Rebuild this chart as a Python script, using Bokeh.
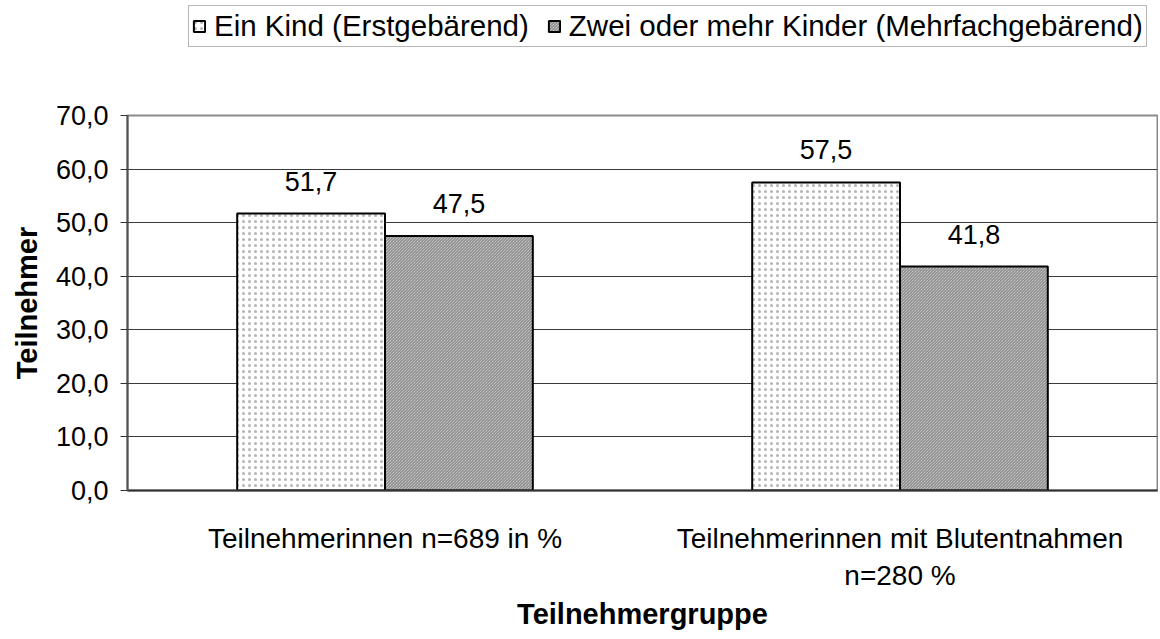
from bokeh.plotting import figure
from bokeh.models import (FactorRange, Range1d, Legend, LegendItem, LabelSet,
                          ColumnDataSource, CustomJSTickFormatter, SingleIntervalTicker)
from bokeh.core.properties import value
from bokeh.transform import dodge
from bokeh.layouts import column
from bokeh.embed import file_html
from bokeh.resources import INLINE

categories = ["Teilnehmerinnen n=689 in %", "Teilnehmerinnen mit Blutentnahmen\nn=280 %"]
ein_kind = [51.7, 57.5]
zwei_mehr = [47.5, 41.8]
series_names = ["Ein Kind (Erstgebärend)", "Zwei oder mehr Kinder (Mehrfachgebärend)"]
y_title = "Teilnehmer"
x_title = "Teilnehmergruppe"

FONT = "Liberation Sans"

def fmt(v):
    return f"{v:.1f}".replace(".", ",")

src = ColumnDataSource(data=dict(
    cat=categories,
    a=ein_kind,
    b=zwei_mehr,
    a_lbl=[fmt(v) for v in ein_kind],
    b_lbl=[fmt(v) for v in zwei_mehr],
))

style1 = dict(fill_color="white", line_color="black", line_width=2,
              hatch_pattern="dot", hatch_color="#b4b4b4", hatch_scale=6, hatch_weight=1)
style2 = dict(fill_color="#e6e6e6", line_color="black", line_width=2,
              hatch_pattern="left_diagonal_line", hatch_color="#777777", hatch_scale=3, hatch_weight=1)

x_range = FactorRange(*categories)
LEG_H = 56
p = figure(x_range=x_range, y_range=Range1d(0, 70),
           frame_width=1030, frame_height=375,
           min_border_left=127, min_border_top=115 - LEG_H, min_border_bottom=146, min_border_right=1,
           output_backend="svg", toolbar_location=None)

bw = 0.287
r1 = p.vbar(x=dodge("cat", -bw / 2, range=x_range), top="a", width=bw, bottom=0, source=src, **style1)
r2 = p.vbar(x=dodge("cat", bw / 2, range=x_range), top="b", width=bw, bottom=0, source=src, **style2)

for col, lbl, off in (("a", "a_lbl", -bw / 2), ("b", "b_lbl", bw / 2)):
    ls = LabelSet(x=dodge("cat", off, range=x_range), y=col, text=lbl, source=src,
                  text_align="center", text_baseline="alphabetic", y_offset=23,
                  text_font=value(FONT), text_font_size="27px", text_color="black")
    p.add_layout(ls)

# axes
p.yaxis.ticker = SingleIntervalTicker(interval=10)
p.yaxis.formatter = CustomJSTickFormatter(code="return tick.toFixed(1).replace('.', ',');")
p.yaxis.major_label_text_font = FONT
p.yaxis.major_label_text_font_size = "27px"
p.yaxis.major_label_text_color = "black"
p.yaxis.major_tick_out = 7
p.yaxis.major_tick_in = 0
p.yaxis.minor_tick_out = 0
p.yaxis.minor_tick_in = 0
p.yaxis.axis_line_color = "#555555"
p.yaxis.axis_line_width = 2
p.yaxis.major_tick_line_color = "#333333"
p.yaxis.major_label_standoff = 12
p.yaxis.axis_label = y_title
p.yaxis.axis_label_text_font = FONT
p.yaxis.axis_label_text_font_style = "bold"
p.yaxis.axis_label_text_font_size = "29px"
p.yaxis.axis_label_text_color = "black"
p.yaxis.axis_label_standoff = 10

p.xaxis.major_label_text_font = FONT
p.xaxis.major_label_text_font_size = "28px"
p.xaxis.major_label_text_color = "black"
p.xaxis.major_tick_out = 0
p.xaxis.major_tick_in = 0
p.xaxis.axis_line_color = "#333333"
p.xaxis.axis_line_width = 2
p.xaxis.major_label_standoff = 32
p.xaxis.axis_label = x_title
p.xaxis.axis_label_text_font = FONT
p.xaxis.axis_label_text_font_style = "bold"
p.xaxis.axis_label_text_font_size = "29px"
p.xaxis.axis_label_text_color = "black"
p.xaxis.axis_label_standoff = 4

p.xgrid.grid_line_color = None
p.ygrid.grid_line_color = "#3a3a3a"
p.ygrid.grid_line_width = 1
p.outline_line_color = "#8a8a8a"
p.outline_line_width = 2
p.background_fill_color = "white"
p.border_fill_color = "white"

# legend strip on top; its bar renderers are hidden and serve only as legend swatches
lf = figure(frame_width=1158, frame_height=LEG_H, x_range=x_range, y_range=Range1d(0, 70),
            min_border=0, output_backend="svg", toolbar_location=None)
lf.axis.visible = False
lf.grid.visible = False
lf.outline_line_color = None
lf.border_fill_color = "white"
lf.background_fill_color = "white"
l1 = lf.vbar(x=dodge("cat", -bw / 2, range=x_range), top="a", width=bw, bottom=0, source=src,
             visible=False, **style1)
l2 = lf.vbar(x=dodge("cat", bw / 2, range=x_range), top="b", width=bw, bottom=0, source=src,
             visible=False, **style2)

legend = Legend(items=[LegendItem(label=series_names[0], renderers=[l1], index=0),
                       LegendItem(label=series_names[1], renderers=[l2], index=0)],
                orientation="horizontal", location=(188, LEG_H - 47),
                label_text_font=FONT, label_text_font_size="29.5px", label_text_color="black",
                glyph_width=14, glyph_height=14, label_standoff=8, spacing=18,
                padding=3, margin=0, label_height=30,
                inactive_fill_alpha=0,
                border_line_color="#707070", border_line_width=1.5,
                background_fill_color="white", background_fill_alpha=1)
lf.add_layout(legend)

layout = column(lf, p, spacing=0)
open("out.html", "w").write(file_html(layout, INLINE))
